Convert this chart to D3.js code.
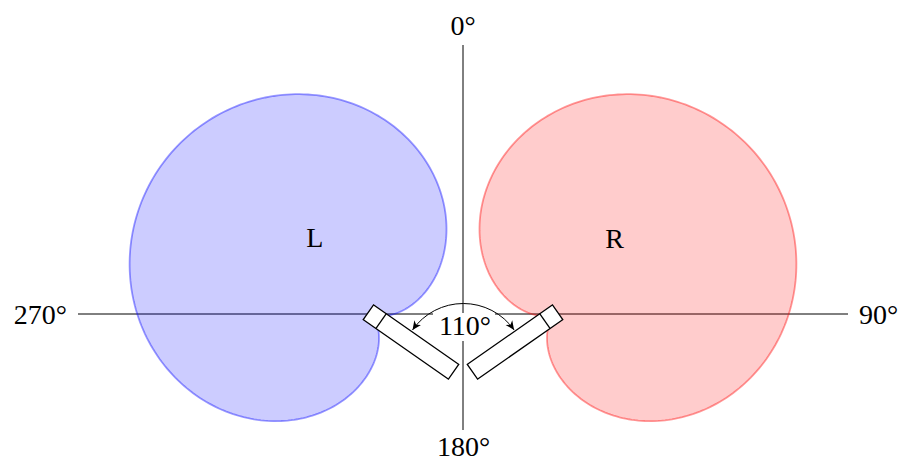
<!DOCTYPE html>
<html>
<head>
<meta charset="utf-8">
<script src="https://cdn.jsdelivr.net/npm/d3@7"></script>
<style>
  html, body { margin: 0; padding: 0; background: #fff; }
  svg { display: block; }
</style>
</head>
<body>
<script>
// ---- data ----
const axisLabels = ["0°", "90°", "180°", "270°"];
const axisAngles = [0, 90, 180, 270];           // degrees, clockwise from front
const micNames = ["L", "R"];
const micAngles = [-55, 55];                     // aiming direction, degrees
const micPositionsCm = [-8.5, 8.5];              // ORTF spacing 17 cm
const includedAngle = 110;
const includedLabel = "110°";
const patternType = "cardioid";                  // first-order polar pattern
const micFill = ["#0000ff", "#ff0000"];

// ---- layout ----
const W = 899, H = 463;
const cx = 463, cy = 314;
const FONT = "'Liberation Serif', 'DejaVu Serif', serif";
const svg = d3.select("body").append("svg").attr("width", W).attr("height", H);

const xCm = d3.scaleLinear().domain([-8.5, 8.5]).range([cx - 92, cx + 92]);
const rGain = d3.scaleLinear().domain([0, 1]).range([0, 257]);
const gain = phi => 0.5 * (1 + Math.cos(phi));   // cardioid

// axes
const axisExt = { left: 385, right: 385, up: 269, down: 116 };
const axesG = svg.append("g");
axesG.append("line").attr("x1", cx - axisExt.left).attr("x2", cx + axisExt.right)
  .attr("y1", cy).attr("y2", cy).attr("stroke", "#000").attr("stroke-width", 1);
axesG.append("line").attr("x1", cx).attr("x2", cx)
  .attr("y1", cy - axisExt.up).attr("y2", cy + axisExt.down).attr("stroke", "#000").attr("stroke-width", 1);

const fs = 28;
const labelPos = {
  0:   { x: cx, y: 35, anchor: "middle" },
  90:  { x: cx + axisExt.right + 11, y: 324, anchor: "start" },
  180: { x: cx + 0.5, y: 456, anchor: "middle" },
  270: { x: cx - axisExt.left - 11, y: 324, anchor: "end" }
};
axisAngles.forEach((a, i) => {
  const p = labelPos[a];
  svg.append("text").attr("x", p.x).attr("y", p.y).attr("text-anchor", p.anchor)
    .attr("font-family", FONT).attr("font-size", fs).attr("fill", "#000").text(axisLabels[i]);
});

// polar patterns
const phis = d3.range(0, 360, 1).map(d => d * Math.PI / 180);
const radial = d3.lineRadial()
  .angle(d => d)
  .radius(d => rGain(gain(d)))
  .curve(d3.curveLinearClosed);

micNames.forEach((name, i) => {
  const g = svg.append("g")
    .attr("transform", `translate(${xCm(micPositionsCm[i])},${cy}) rotate(${micAngles[i]})`);
  g.append("path").attr("d", radial(phis))
    .attr("fill", micFill[i]).attr("fill-opacity", 0.2)
    .attr("stroke", micFill[i]).attr("stroke-opacity", 0.4)
    .attr("stroke-width", 1.8);
});

// mic bodies
const micLen = 104, micW = 18, micFront = -3.2, capsule = 15.6;
micNames.forEach((name, i) => {
  const g = svg.append("g")
    .attr("transform", `translate(${xCm(micPositionsCm[i])},${cy}) rotate(${micAngles[i]})`);
  g.append("rect").attr("x", -micW / 2).attr("y", micFront)
    .attr("width", micW).attr("height", micLen)
    .attr("fill", "#fff").attr("stroke", "#000").attr("stroke-width", 1.3);
  g.append("line").attr("x1", -micW / 2).attr("x2", micW / 2)
    .attr("y1", micFront + capsule).attr("y2", micFront + capsule)
    .attr("stroke", "#000").attr("stroke-width", 1.3);
});

// mic name labels
const nameLabelPos = [{ x: 314.7, y: 247 }, { x: 614.5, y: 247.5 }];
micNames.forEach((name, i) => {
  svg.append("text").attr("x", nameLabelPos[i].x).attr("y", nameLabelPos[i].y)
    .attr("text-anchor", "middle").attr("font-family", FONT).attr("font-size", 28)
    .attr("fill", "#000").text(name);
});

// included angle arc with arrows
const arcC = { x: cx + 0.3, y: cy + 51.5 }, arcR = 62;
const half = includedAngle / 2 * Math.PI / 180;
const defs = svg.append("defs");
defs.append("marker").attr("id", "arw").attr("viewBox", "0 0 10 10")
  .attr("refX", 10).attr("refY", 5).attr("markerWidth", 9).attr("markerHeight", 9)
  .attr("markerUnits", "userSpaceOnUse").attr("orient", "auto-start-reverse")
  .append("path").attr("d", "M0,0.5 L10,5 L0,9.5 L3,5 Z").attr("fill", "#000");
const p = d3.path();
const a0 = -Math.PI / 2 - half, a1 = -Math.PI / 2 + half;
p.moveTo(arcC.x + arcR * Math.cos(a0), arcC.y + arcR * Math.sin(a0));
p.arc(arcC.x, arcC.y, arcR, a0, a1, false);
svg.append("path").attr("d", p.toString()).attr("fill", "none")
  .attr("stroke", "#000").attr("stroke-width", 1)
  .attr("marker-start", "url(#arw)").attr("marker-end", "url(#arw)");

// included angle label with white background
const lblX = 465, lblY = 335;
svg.append("rect").attr("x", 433).attr("y", 313).attr("width", 62).attr("height", 28)
  .attr("fill", "#fff");
svg.append("text").attr("x", lblX).attr("y", lblY).attr("text-anchor", "middle")
  .attr("font-family", FONT).attr("font-size", fs).attr("fill", "#000").text(includedLabel);
</script>
</body>
</html>
